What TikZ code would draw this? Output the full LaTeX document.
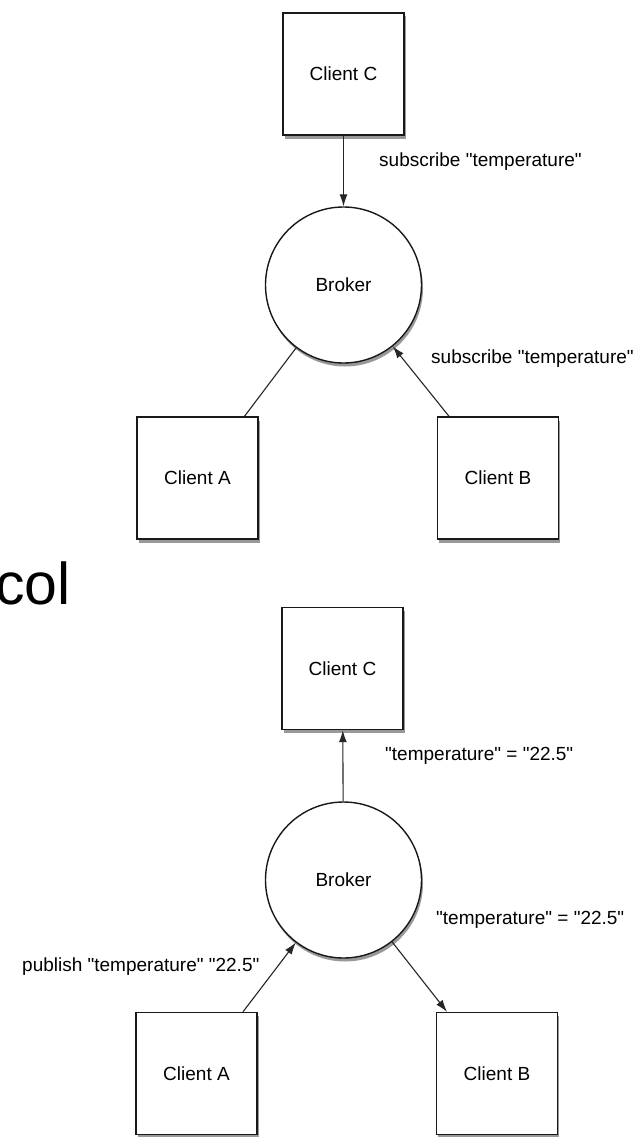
\documentclass[tikz,border=0pt]{standalone}
\usepackage{fontspec}
\setmainfont{Liberation Sans}[Ligatures=TeXOff]
\usetikzlibrary{arrows.meta,shadows}
\begin{document}
\begin{tikzpicture}[x=1pt,y=-1pt,
  every node/.style={font=\fontsize{19}{22}\selectfont},
  shad/.style={drop shadow={shadow xshift=1.5pt, shadow yshift=-3.5pt, opacity=0.4, fill=black}},
  client/.style={draw=black!90, line width=1.4pt, fill=white, minimum width=121pt, minimum height=122pt, inner sep=0pt, shad},
  broker/.style={circle, draw=black!90, line width=1.4pt, fill=white, minimum size=156pt, inner sep=0pt, shad},
  lbl/.style={anchor=west, inner sep=0pt},
  conn/.style={draw=black!85, line width=1.1pt},
  arr/.style={conn, -{Latex[length=12pt,width=8pt]}}
]
\clip (0,0) rectangle (635,1137);
\fill[white] (0,0) rectangle (635,1137);

% top diagram
\node[client] (C1) at (343.5,74) {Client C};
\node[broker] (K1) at (343.5,285) {Broker};
\node[client] (A1) at (197.5,478) {Client A};
\node[client] (B1) at (498,478) {Client B};
\coordinate (a1) at ([xshift=47pt]A1.north);
\coordinate (b1) at ([xshift=-49pt]B1.north);
\draw[arr] (C1) -- (K1);
\draw[conn] (a1) -- (K1);
\draw[arr] (b1) -- (K1);
\node[lbl] (l1) at (379,162) {subscribe "temperature"};
\node[lbl] (l2) at (431,359) {subscribe "temperature"};

% partial title
\node[anchor=base west, inner sep=0pt, font=\fontsize{59}{60}\selectfont] (t) at (-5,604) {col};

% bottom diagram
\node[client] (C2) at (342.5,668.5) {Client C};
\node[broker] (K2) at (343.5,880) {Broker};
\node[client] (A2) at (196.5,1073.5) {Client A};
\node[client] (B2) at (497,1073.5) {Client B};
\coordinate (a2) at ([xshift=46.5pt]A2.north);
\coordinate (b2) at ([xshift=-50pt]B2.north);
\draw[arr] (K2) -- (C2);
\draw[arr] (a2) -- (K2);
\draw[arr] (K2) -- (b2);
\node[lbl] (l3) at (385,756) {"temperature" = "22.5"};
\node[lbl] (l4) at (22,967) {publish "temperature" "22.5"};
\node[lbl] (l5) at (436,920) {"temperature" = "22.5"};
\end{tikzpicture}
\end{document}
